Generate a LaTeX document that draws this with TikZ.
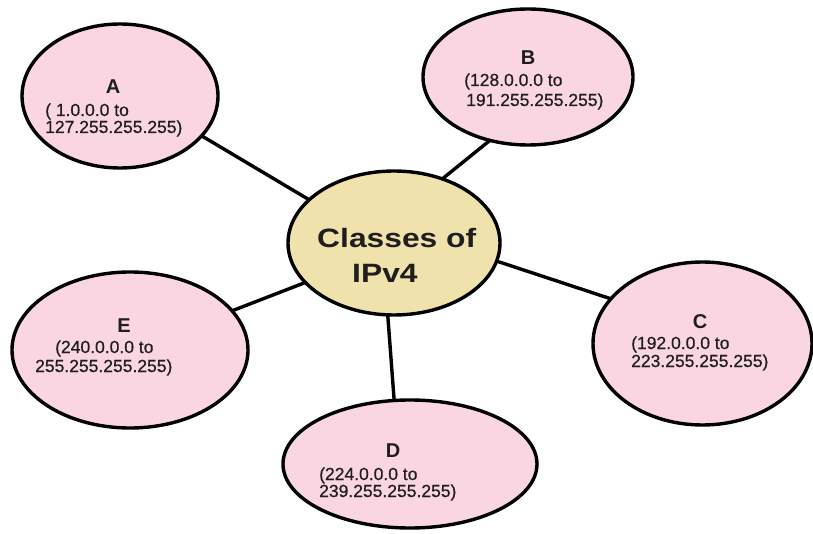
\documentclass[tikz,border=0pt]{standalone}
\usepackage{fontspec}
\setmainfont{Liberation Sans}
\newfontfamily\semibold[FakeBold=0.6]{Liberation Sans}
\usetikzlibrary{shapes.geometric}
\definecolor{pinkfill}{HTML}{F9D6E1}
\definecolor{khaki}{HTML}{F0E2AC}
\definecolor{txt}{HTML}{1E1E1E}
\tikzset{
  oval/.style={ellipse, draw=black, line width=3.4pt, fill=pinkfill, inner sep=0pt, outer sep=0pt},
  hub/.style={oval, fill=khaki},
  letter/.style={anchor=base, inner sep=0pt, text=txt, font=\fontsize{20}{21}\selectfont\bfseries},
  rng/.style={anchor=base west, inner sep=0pt, text=txt, font=\fontsize{17.5}{18}\selectfont\semibold},
  ttl/.style={anchor=base west, inner sep=0pt, text=txt, font=\fontsize{26.5}{28}\selectfont\bfseries},
  link/.style={line width=3.4pt, draw=black}
}
\begin{document}
\begin{tikzpicture}[x=1pt, y=-1pt]
\useasboundingbox (0,0) rectangle (813,534);
% ellipses
\node[hub, minimum width=212pt, minimum height=144pt] (H) at (394,243) {};
\node[oval, minimum width=196pt, minimum height=144pt] (A) at (120,96) {};
\node[oval, minimum width=210pt, minimum height=136pt] (B) at (528,77) {};
\node[oval, minimum width=219pt, minimum height=163pt] (C) at (702.5,343.5) {};
\node[oval, minimum width=254pt, minimum height=128pt] (D) at (410,464) {};
\node[oval, minimum width=236pt, minimum height=156pt] (E) at (130,350) {};
% connectors
\draw[link] (A.-26.3) -- (H.153.2);
\draw[link] (B.-121.6) -- (H.53.6);
\draw[link] (C.154.2) -- (H.-10.5);
\draw[link] (D.104.9) -- (H.-95.6);
\draw[link] (E.21.2) -- (H.204.2);
% hub text
\node[ttl] (H1) at (317,248) {\scalebox{1.2}[1]{Classes of}};
\node[ttl] (H2) at (352,283) {\scalebox{1.2}[1]{IPv4}};
% A
\node[letter] (At) at (113,94) {A};
\node[rng] (A1) at (45,116) {( 1.0.0.0 to};
\node[rng] (A2) at (45,133) {127.255.255.255)};
% B
\node[letter] (Bt) at (528,65) {B};
\node[rng] (B1) at (464,86) {(128.0.0.0 to};
\node[rng] (B2) at (466,106) {191.255.255.255)};
% C
\node[letter] (Ct) at (700,328) {C};
\node[rng] (C1) at (631,349) {(192.0.0.0 to};
\node[rng] (C2) at (631,367) {223.255.255.255)};
% D
\node[letter] (Dt) at (393,457) {D};
\node[rng] (D1) at (319,480) {(224.0.0.0 to};
\node[rng] (D2) at (319,497) {239.255.255.255)};
% E
\node[letter] (Et) at (124,332) {E};
\node[rng] (E1) at (55,353) {(240.0.0.0 to};
\node[rng] (E2) at (35,372) {255.255.255.255)};
\end{tikzpicture}
\end{document}
